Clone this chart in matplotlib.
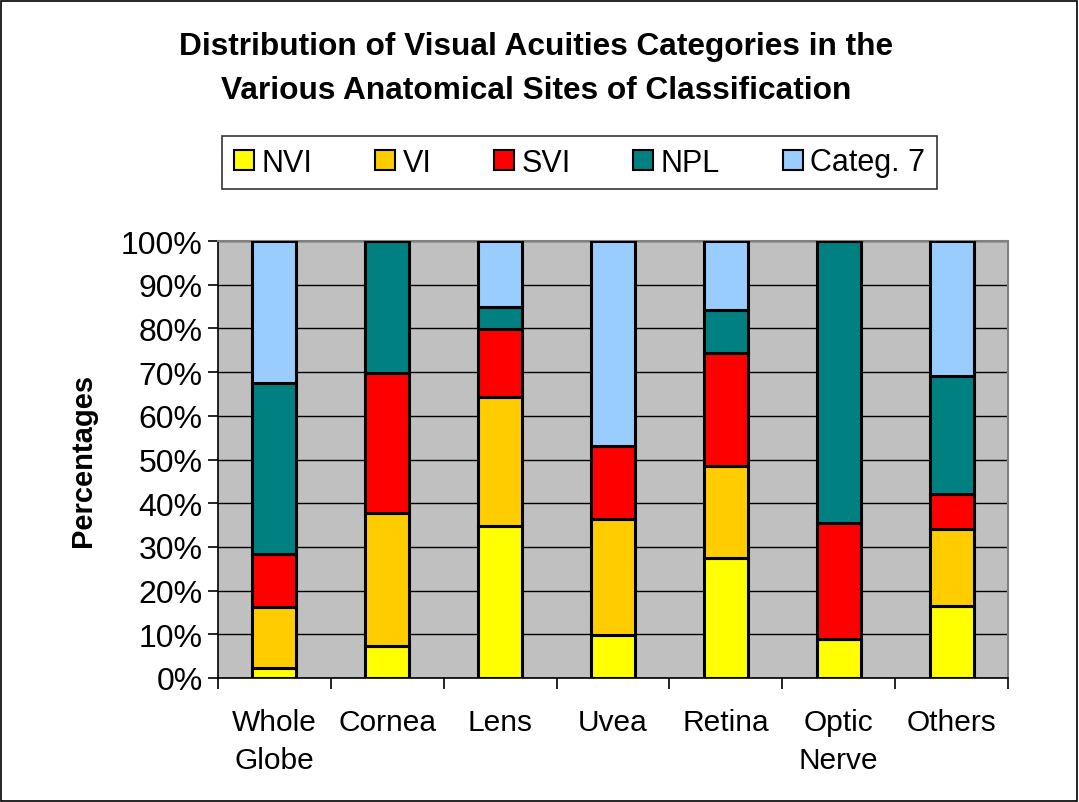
import matplotlib
matplotlib.use("Agg")
import matplotlib.pyplot as plt
import numpy as np
from matplotlib.patches import Rectangle

plt.rcParams['font.family'] = ['Liberation Sans', 'DejaVu Sans']

categories = ["Whole\nGlobe", "Cornea", "Lens", "Uvea", "Retina", "Optic\nNerve", "Others"]
series_names = ["NVI", "VI", "SVI", "NPL", "Categ. 7"]
nvi = [2.4, 7.4, 34.7, 9.8, 27.5, 8.9, 16.4]
vi = [13.9, 30.3, 29.6, 26.5, 20.9, 0.0, 17.6]
svi = [12.0, 32.0, 15.5, 16.8, 25.9, 26.6, 8.2]
npl = [39.2, 30.3, 5.2, 0.0, 9.8, 64.5, 26.8]
cat7 = [32.5, 0.0, 15.0, 46.9, 15.9, 0.0, 31.0]
yticks = [0, 10, 20, 30, 40, 50, 60, 70, 80, 90, 100]
ytick_labels = [f"{v}%" for v in yticks]
colors = ["#FFFF00", "#FFCC00", "#FF0000", "#008080", "#99CCFF"]

W, H = 1079, 803
fig = plt.figure(figsize=(W / 100, H / 100), dpi=100)
# outer border
fig.add_artist(Rectangle((1 / W, 1 / H), 1 - 3 / W, 1 - 3 / H, transform=fig.transFigure,
                         fill=False, edgecolor="black", linewidth=1.2))

x0, x1, yt, yb = 218, 1008, 242, 679
ax = fig.add_axes([x0 / W, 1 - yb / H, (x1 - x0) / W, (yb - yt) / H])
ax.set_facecolor("#C0C0C0")

x = np.arange(len(categories))
data = [nvi, vi, svi, npl, cat7]
bottom = np.zeros(len(categories))
handles = []
for vals, c, name in zip(data, colors, series_names):
    vals = np.array(vals)
    b = ax.bar(x, vals, bottom=bottom, width=0.39, color=c, edgecolor="black",
               linewidth=2.2, label=name, zorder=3)
    handles.append(b)
    bottom += vals

ax.set_xlim(-0.5, len(categories) - 0.5)
ax.set_ylim(0, 100)
ax.set_yticks(yticks)
ax.set_yticklabels(ytick_labels, fontsize=23)
ax.yaxis.grid(True, color="black", linewidth=1.0, zorder=1)
ax.set_axisbelow(True)

# x ticks at category boundaries
ax.set_xticks(np.arange(-0.5, len(categories), 1.0))
ax.set_xticklabels([])
ax.tick_params(axis="x", length=8, width=1.2, color="black", direction="out")
ax.tick_params(axis="y", length=7, width=1.2, color="black", direction="out", pad=4)
for i, cat in enumerate(categories):
    ax.text(i, -6.8, cat, ha="center", va="top", fontsize=21.5, linespacing=1.45,
            transform=ax.transData)

for s in ["top", "right"]:
    ax.spines[s].set_color("#808080")
    ax.spines[s].set_linewidth(1.5)
ax.spines["left"].set_color("black")
ax.spines["bottom"].set_color("black")
ax.spines["left"].set_linewidth(1.2)
ax.spines["bottom"].set_linewidth(1.2)

ax.set_ylabel("Percentages", fontsize=21, fontweight="bold")
ax.yaxis.set_label_coords((97 - x0) / (x1 - x0), 0.5)

fig.text(536 / W, 1 - 69 / H,
         "Distribution of Visual Acuities Categories in the\nVarious Anatomical Sites of Classification",
         ha="center", va="center", fontsize=22.8, fontweight="bold", linespacing=1.6)

leg = fig.legend(handles=handles, labels=series_names, loc="center",
                 bbox_to_anchor=(579.5 / W, 1 - 163.5 / H), ncol=5, fontsize=22,
                 frameon=True, fancybox=False, edgecolor="black", handlelength=0.65,
                 handleheight=0.65, handletextpad=0.25, columnspacing=2.05,
                 borderpad=0.38)
leg.get_frame().set_linewidth(1.2)
for p in leg.get_patches():
    p.set_linewidth(1.5)

fig.savefig("out.png", dpi=100)
